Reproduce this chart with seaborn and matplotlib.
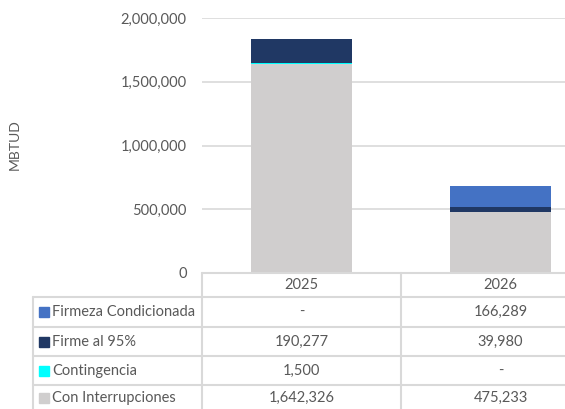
import matplotlib
matplotlib.use("Agg")
import matplotlib.pyplot as plt
import seaborn as sns
import numpy as np
import pandas as pd
from matplotlib.lines import Line2D
from matplotlib.patches import Rectangle

years = ["2025", "2026"]
series = ["Firmeza Condicionada", "Firme al 95%", "Contingencia", "Con Interrupciones"]
firmeza = [0, 166289]
firme95 = [190277, 39980]
contingencia = [1500, 0]
interrupciones = [1642326, 475233]
colors = {"Firmeza Condicionada": "#4472C4", "Firme al 95%": "#203864",
          "Contingencia": "#00FFFF", "Con Interrupciones": "#D0CECE"}
yticks = [0, 500000, 1000000, 1500000, 2000000]

sns.set_theme(style="white")
plt.rcParams["font.family"] = ["Lato", "DejaVu Sans"]
txt = "#595959"
grid = "#D9D9D9"

W, H = 565, 409
x_left, x_lab, x_mid, x_right = 33, 202, 401, 600
fig = plt.figure(figsize=(W / 100, H / 100), dpi=100)
ax = fig.add_axes([x_lab / W, (H - 273) / H, (x_right - x_lab) / W, 255 / H])

# stack order bottom -> top
stack = [("Con Interrupciones", interrupciones), ("Contingencia", contingencia),
         ("Firme al 95%", firme95), ("Firmeza Condicionada", firmeza)]
cum = np.zeros(len(years))
layers = []
for name, vals in stack:
    cum = cum + np.array(vals, dtype=float)
    layers.append((name, cum.copy()))
for name, tops in reversed(layers):
    df = pd.DataFrame({"year": years, "v": tops})
    sns.barplot(data=df, x="year", y="v", color=colors[name], width=0.51,
                saturation=1, ax=ax, linewidth=0, zorder=3)

ax.set_ylim(0, 2000000)
ax.set_yticks(yticks)
ax.set_yticklabels([f"{v:,}" for v in yticks], color=txt, fontsize=10.5)
ax.yaxis.grid(True, color=grid, linewidth=1.2, zorder=0)
ax.set_axisbelow(True)
for s in ax.spines.values():
    s.set_visible(False)
ax.tick_params(axis="y", length=0, pad=11)
ax.set_xticks([])
ax.set_xlabel("")
ax.set_ylabel("")
ax.set_xlim(-0.5, 1.5)
fig.text(15 / W, 1 - 145 / H, "MBTUD", rotation=90, ha="center", va="center",
         color=txt, fontsize=10)

# data table
def fx(x):
    return x / W
def fy(y):
    return 1 - y / H

lc = grid
lw = 1.5
rows_y = [273, 297, 327, 356, 385, 415]
fig.add_artist(Line2D([fx(x_lab), fx(x_right)], [fy(273), fy(273)], color=lc, lw=lw))
for y in rows_y[1:]:
    fig.add_artist(Line2D([fx(x_left), fx(x_right)], [fy(y), fy(y)], color=lc, lw=lw))
fig.add_artist(Line2D([fx(x_left), fx(x_left)], [fy(297), fy(415)], color=lc, lw=lw))
for x in [x_lab, x_mid]:
    fig.add_artist(Line2D([fx(x), fx(x)], [fy(273), fy(415)], color=lc, lw=lw))

cx = [(x_lab + x_mid) / 2, (x_mid + x_right) / 2]
for i, yv in enumerate(years):
    fig.text(fx(cx[i]), fy(285), yv, ha="center", va="center", color=txt, fontsize=10.5)

table_vals = {"Firmeza Condicionada": firmeza, "Firme al 95%": firme95,
              "Contingencia": contingencia, "Con Interrupciones": interrupciones}
for r, name in enumerate(series):
    yc = (rows_y[r + 1] + rows_y[r + 2]) / 2
    if r == 3:
        yc = 398
    fig.add_artist(Rectangle((fx(39), fy(yc + 5)), 10 / W, 10 / H,
                             color=colors[name], transform=fig.transFigure))
    fig.text(fx(52), fy(yc), name, ha="left", va="center", color=txt, fontsize=10.5)
    for i in range(len(years)):
        v = table_vals[name][i]
        s = f"{v:,}" if v else "-"
        fig.text(fx(cx[i]), fy(yc), s, ha="center", va="center", color=txt, fontsize=10.5)

fig.savefig("out.png", dpi=100)
